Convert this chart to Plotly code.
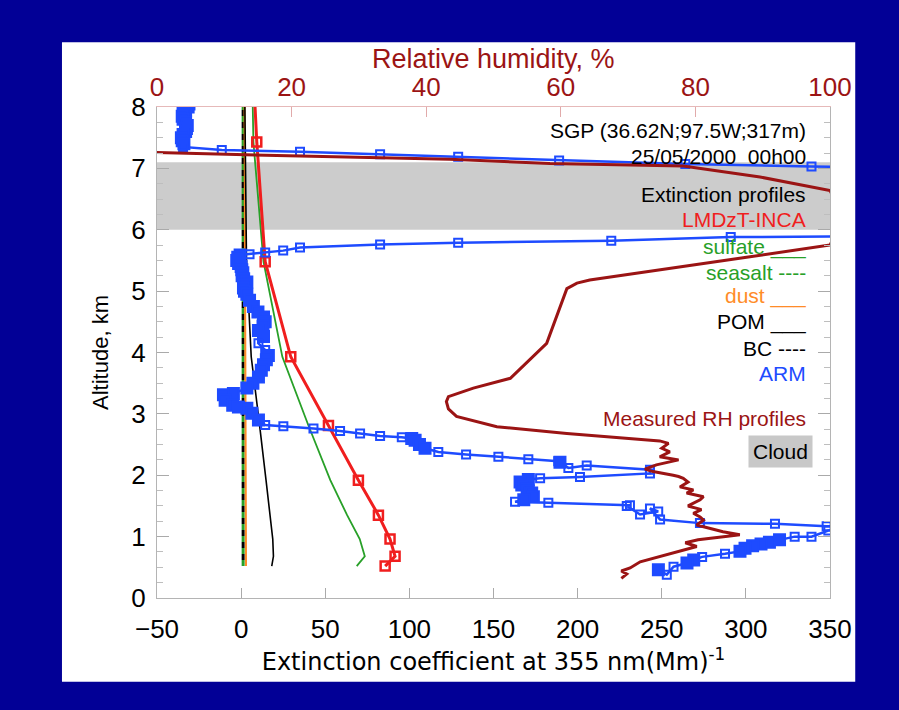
import plotly.graph_objects as go

# ---------------- data ----------------
# Model levels (km) shared by the LMDzT-INCA species
model_alt = [0.52, 0.68, 0.96, 1.35, 1.92, 2.81, 3.93, 5.48, 7.43, 8.6]
total_ext = [85.6, 91.5, 88.5, 81.6, 69.7, 51.9, 29.5, 14.3, 9.3, 7.2]
sulfate_ext = [68.7, 73.5, 70.5, 63.0, 53.0, 40.0, 24.5, 13.3, 7.3, 6.5]
seasalt_ext = [1.2, 1.2, 1.2, 1.2, 1.2, 1.2, 1.2, 1.2, 1.2, 1.2]
dust_ext = [2.9, 2.9, 2.8, 2.8, 2.7, 2.6, 2.5, 2.3, 2.1, 2.0]
pom_ext = [18.2, 19.2, 18.8, 17.3, 14.8, 11.0, 6.0, 3.2, 2.3, 2.0]
bc_ext = [1.2, 1.2, 1.2, 1.2, 1.2, 1.2, 1.2, 1.2, 1.2, 1.2]

# ARM lidar extinction profile (Mm-1) vs altitude (km), top to bottom
arm_ext = [-31, -31.5, -33, -34.5, -35, -34.5, -33, -32, -32.5, -33, -34.5, -35.5, -35, -34, -34.5,
           -11.5, 35, 82.6, 129, 189, 264, 339, 420, 420,
           291, 220, 129, 82.6, 35, 25, 14.3, 5, -0.6,
           -2, -2.6, -1.5, 0, 0.4, 1, 0.6, 1.5, 3.4, 2.5, 1.4, 2, 3.4, 5, 7.3, 10, 13.3, 14.3, 13, 10.3,
           13.3, 10.3, 14.3, 16.2, 15, 13.3, 12, 10.3, 7, 3.4, -4.6, -10.5, -9.5, -5, -1.6, 3.4, 6.4, 10.3, 14.3,
           25.1, 43.0, 58.8, 70.7, 82.6, 95.5, 101.4, 103.4, 106, 109.3, 117.2, 133.7, 152.9, 170.7, 188.5,
           189.5, 194.5, 205.4, 243, 243, 201.4, 177.7, 170.7, 165.8, 166.8, 170, 170.7, 172.7, 173.7, 168,
           162.8, 182.6, 231.1, 229.2, 237.1, 247.9, 243, 249, 272.7, 317.3, 348, 420,
           349, 339, 329, 320, 314, 309, 304, 299.5, 296.5, 287.6, 274, 269, 265, 257, 253, 248]
arm_alt = [8.05, 8.0, 7.95, 7.9, 7.85, 7.8, 7.75, 7.7, 7.65, 7.6, 7.55, 7.5, 7.45, 7.4, 7.35,
           7.3, 7.27, 7.23, 7.19, 7.13, 7.07, 7.03, 7.0, 5.9,
           5.88, 5.82, 5.79, 5.76, 5.71, 5.66, 5.63, 5.6, 5.59,
           5.55, 5.5, 5.45, 5.4, 5.35, 5.3, 5.25, 5.2, 5.15, 5.1, 5.05, 5.0, 4.95, 4.85, 4.75, 4.66, 4.58, 4.5, 4.43, 4.36,
           4.26, 4.15, 4.04, 3.95, 3.88, 3.8, 3.71, 3.6, 3.5, 3.42, 3.33, 3.31, 3.22, 3.14, 3.11, 3.09, 3.01, 2.9, 2.82, 2.80,
           2.76, 2.72, 2.68, 2.64, 2.62, 2.60, 2.57, 2.50, 2.44, 2.38, 2.34, 2.30, 2.26, 2.23, 2.21,
           2.12, 2.16, 2.09, 2.03, 1.97, 1.95, 1.93, 1.89, 1.84, 1.78, 1.74, 1.71, 1.65, 1.60, 1.57,
           1.55, 1.51, 1.50, 1.36, 1.41, 1.46, 1.28, 1.22, 1.21, 1.17, 1.16, 1.1,
           1.0, 1.0, 0.95, 0.91, 0.88, 0.85, 0.81, 0.76, 0.72, 0.67, 0.62, 0.57, 0.51, 0.38, 0.46, 0.43]

# Measured relative humidity (%) vs altitude (km), bottom to top
rh_val = [69.0, 69.8, 69.0, 70.3, 71.8, 76.7, 80.2, 78.5, 80.4, 85.1, 86.6, 84.1, 80.2, 81.2, 80.7, 79.7,
          80.9, 78.9, 80.7, 81.2, 78.7, 79.7, 77.7, 78.9, 78.2, 77.5, 76.7, 73.7, 72.5, 74.2, 77.5, 74.7,
          76.2, 75.0, 76.0, 74.7, 60.9, 50.5, 44.5, 43.3, 43.0, 43.3, 47.0, 52.5, 55.4, 57.9, 60.9, 62.4, 64.3,
          100.0, 102.0, 100.0, 89.6, 78.2, 58.4, 43.5, 21.2, -0.5]
rh_alt = [0.32, 0.39, 0.44, 0.49, 0.59, 0.73, 0.84, 0.90, 0.95, 1.01, 1.03, 1.08, 1.19, 1.27, 1.32, 1.38,
          1.44, 1.50, 1.60, 1.65, 1.71, 1.76, 1.81, 1.89, 1.95, 1.98, 2.0, 2.06, 2.10, 2.17, 2.25, 2.30,
          2.38, 2.44, 2.52, 2.56, 2.68, 2.79, 2.96, 3.08, 3.20, 3.28, 3.42, 3.58, 3.88, 4.15, 5.04, 5.13, 5.18,
          5.75, 6.2, 6.64, 6.86, 7.04, 7.08, 7.15, 7.20, 7.26]

cloud_base, cloud_top = 6.0, 7.1

x_ticks = [-50, 0, 50, 100, 150, 200, 250, 300, 350]
rh_ticks = [0, 20, 40, 60, 80, 100]
y_ticks = [0, 1, 2, 3, 4, 5, 6, 7, 8]

# ---------------- style ----------------
NAVY = "rgb(2,0,150)"
DARKRED = "rgb(155,20,20)"
RED = "rgb(240,30,30)"
GREEN = "rgb(40,160,40)"
ORANGE = "rgb(255,140,40)"
BLUE = "rgb(30,75,255)"
TICKFONT = "Liberation Sans, Arial, sans-serif"
TXTFONT = "Liberation Sans, Arial, Helvetica, sans-serif"

# densely sampled ARM points (close neighbours) are drawn as filled squares
n = len(arm_ext)
arm_sym, arm_size = [], []
for i in range(n):
    close = True
    for j in (i - 1, i + 1):
        if 0 <= j < n:
            if abs(arm_alt[j] - arm_alt[i]) > 0.11 or abs(arm_ext[j] - arm_ext[i]) > 9:
                close = False
    arm_sym.append("square" if close else "square-open")
    arm_size.append(11 if close else 8)

fig = go.Figure()

fig.add_trace(go.Scatter(x=seasalt_ext, y=model_alt, mode="lines", name="seasalt",
                         line=dict(color=GREEN, width=3, dash="6px,6px")))
fig.add_trace(go.Scatter(x=bc_ext, y=model_alt, mode="lines", name="BC",
                         line=dict(color="black", width=3, dash="0px,6px,6px,0px")))
fig.add_trace(go.Scatter(x=dust_ext, y=model_alt, mode="lines", name="dust",
                         line=dict(color=ORANGE, width=2)))
fig.add_trace(go.Scatter(x=pom_ext, y=model_alt, mode="lines", name="POM",
                         line=dict(color="black", width=1.6)))
fig.add_trace(go.Scatter(x=sulfate_ext, y=model_alt, mode="lines", name="sulfate",
                         line=dict(color=GREEN, width=1.8)))
fig.add_trace(go.Scatter(x=total_ext, y=model_alt, mode="lines+markers", name="LMDzT-INCA",
                         line=dict(color=RED, width=3),
                         marker=dict(symbol="square-open", size=9, color=RED, opacity=1,
                                     line=dict(width=2.5))))
fig.add_trace(go.Scatter(x=arm_ext, y=arm_alt, mode="lines+markers", name="ARM",
                         line=dict(color=BLUE, width=2.5),
                         marker=dict(symbol=arm_sym, size=arm_size, color=BLUE, opacity=1,
                                     line=dict(width=2, color=BLUE))))
fig.add_trace(go.Scatter(x=rh_val, y=rh_alt, mode="lines", name="Measured RH", xaxis="x2",
                         line=dict(color=DARKRED, width=3)))

# ---------------- annotations ----------------
XR = 0.967
ann = [
    ("SGP (36.62N;97.5W;317m)", 7.62, "black"),
    ("25/05/2000  00h00", 7.19, "black"),
    ("Extinction profiles", 6.57, "black"),
    ("LMDzT-INCA", 6.17, RED),
    ("sulfate ___", 5.72, GREEN),
    ("seasalt ----", 5.31, GREEN),
    ("dust ___", 4.92, ORANGE),
    ("POM ___", 4.49, "black"),
    ("BC ----", 4.07, "black"),
    ("ARM", 3.66, BLUE),
    ("Measured RH profiles", 2.93, DARKRED),
]
annotations = []
for txt, y, col in ann:
    annotations.append(dict(text=txt, x=XR, xref="paper", y=y, yref="y", xanchor="right",
                            yanchor="middle", showarrow=False,
                            font=dict(family=TXTFONT, size=21, color=col)))
annotations.append(dict(text="Cloud", x=0.975, xref="paper", y=2.38, yref="y", xanchor="right",
                        yanchor="middle", showarrow=False, bgcolor="rgb(200,200,200)", borderpad=4,
                        font=dict(family=TXTFONT, size=21, color="black")))
# top axis title
annotations.append(dict(text="Relative humidity, %", x=0.5, xref="paper", y=1.0985, yref="paper",
                        xanchor="center", yanchor="middle", showarrow=False,
                        font=dict(family=TXTFONT, size=27, color=DARKRED)))

shapes = [
    dict(type="rect", xref="paper", yref="paper", x0=-0.1412, x1=1.0375, y0=-0.1707, y1=1.1321,
         fillcolor="white", line=dict(width=0), layer="below"),
    dict(type="rect", xref="x domain", yref="y", x0=0, x1=1, y0=cloud_base, y1=cloud_top,
         fillcolor="rgb(204,204,204)", line=dict(width=0), layer="below"),
]

fig.update_layout(
    width=899, height=710,
    margin=dict(l=157, r=69, t=107, b=112, autoexpand=False),
    paper_bgcolor=NAVY, plot_bgcolor="white",
    showlegend=False,
    annotations=annotations, shapes=shapes,
    xaxis=dict(range=[-50, 350], tickvals=x_ticks, ticks="inside", ticklen=10,
               tickcolor="rgb(170,170,170)", showgrid=False, zeroline=False, automargin=False,
               showline=True, linecolor="rgb(180,180,180)", linewidth=1,
               tickfont=dict(family=TICKFONT, size=26, color="black"), ticklabelstandoff=8,
               title=dict(text="Extinction coefficient at 355 nm(Mm)<sup>-1</sup>", standoff=6,
                          font=dict(family="DejaVu Sans, sans-serif", size=24, color="black"))),
    xaxis2=dict(range=[0, 100], tickvals=rh_ticks, overlaying="x", side="top", ticks="inside",
                ticklen=10, tickcolor="rgb(225,170,170)", showgrid=False, zeroline=False,
                automargin=False, showline=True, linecolor="rgb(230,185,185)", linewidth=1,
                tickfont=dict(family=TICKFONT, size=26, color=DARKRED), ticklabelstandoff=0),
    yaxis=dict(range=[0, 8], tickvals=y_ticks, ticks="inside", ticklen=12,
               tickcolor="rgb(170,170,170)", showgrid=False, zeroline=False, automargin=False,
               showline=True, linecolor="rgb(180,180,180)", linewidth=1, mirror="ticks",
               minor=dict(dtick=0.25, ticks="inside", ticklen=6, tickcolor="rgb(190,190,190)"),
               tickfont=dict(family=TICKFONT, size=26, color="black"), ticklabelstandoff=5,
               title=dict(text="Altitude, km", standoff=16,
                          font=dict(family=TXTFONT, size=22, color="black"))),
)

fig.write_html("out.html", config={"displayModeBar": False},
               post_script="document.body.style.margin='0';document.body.style.overflow='hidden';")
